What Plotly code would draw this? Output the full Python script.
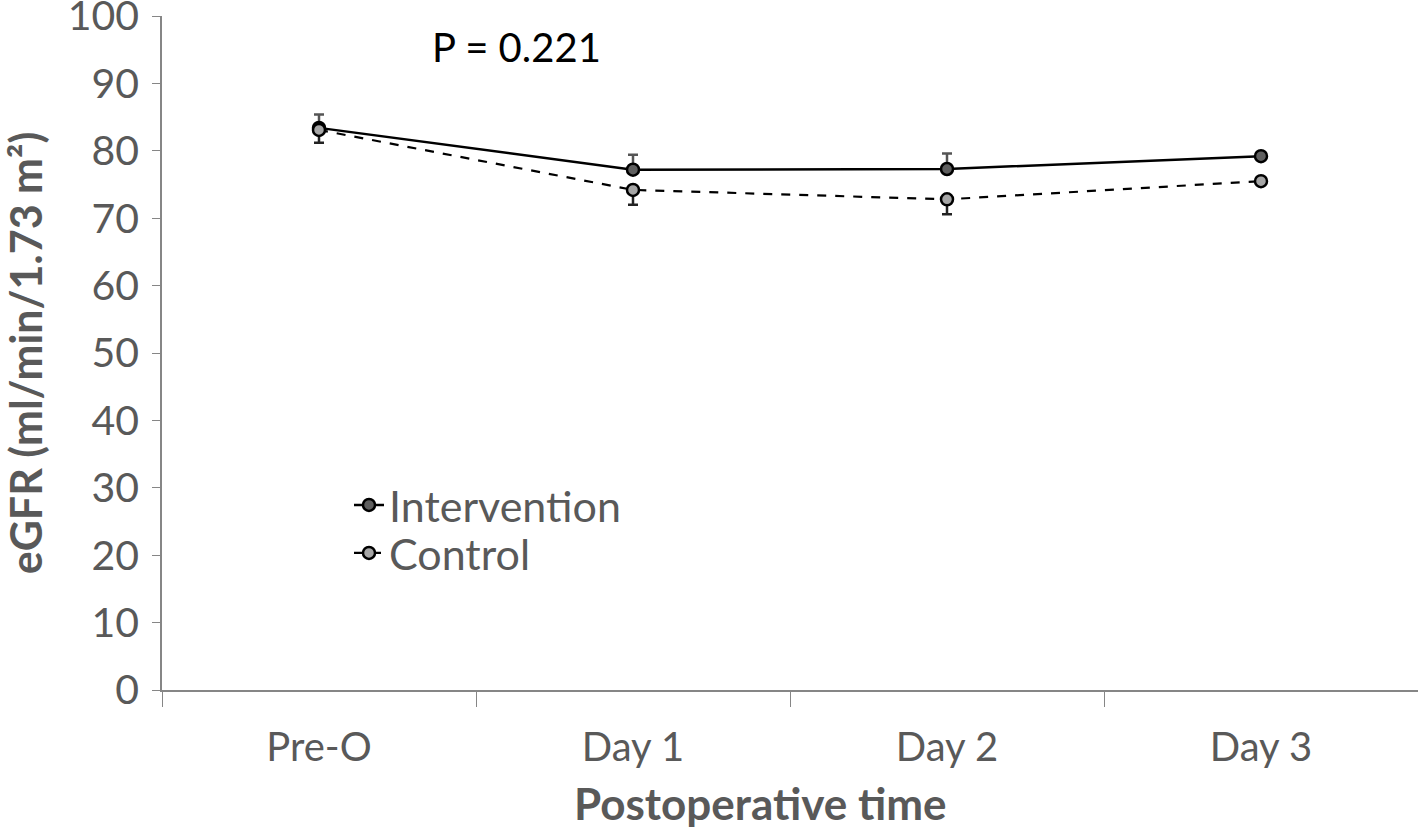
import plotly.graph_objects as go

# data
times = ["Pre-O", "Day 1", "Day 2", "Day 3"]
intervention = [83.4, 77.2, 77.3, 79.2]
intervention_err = [2.0, 2.2, 2.3, 0.0]
control = [83.1, 74.2, 72.8, 75.5]
control_err = [1.9, 2.2, 2.2, 0.0]

FONT = "Lato"
GREY = "#595959"

W, H = 1418, 831
L, T, R, B = 162, 16, 0, 141
PW, PH = W - L - R, H - T - B


def px(x):  # page x pixel -> paper
    return (x - L) / PW


def py(y):  # page y pixel -> paper
    return (H - B - y) / PH


fig = go.Figure()

fig.add_trace(go.Scatter(
    x=times, y=intervention,
    mode="lines+markers",
    name="Intervention", legend="legend",
    line=dict(color="black", width=2.5),
    marker=dict(size=12, color="#5f5f5f", line=dict(color="black", width=2.5)),
    error_y=dict(type="data", array=intervention_err, arrayminus=[0, 0, 0, 0],
                 symmetric=False, color="#555555", thickness=2.5, width=5),
))

fig.add_trace(go.Scatter(
    x=times, y=control,
    mode="lines+markers",
    name="Control", legend="legend2",
    line=dict(color="black", width=2.2, dash="dash"),
    marker=dict(size=12, color="#a6a6a6", line=dict(color="black", width=2.5)),
    error_y=dict(type="data", array=[0, 0, 0, 0], arrayminus=control_err,
                 symmetric=False, color="#222222", thickness=2.5, width=5),
))

fig.add_annotation(
    x=px(516), y=py(47), xref="paper", yref="paper",
    text="P = 0.221", showarrow=False, xanchor="center", yanchor="middle",
    font=dict(family=FONT, size=40, color="black"),
)
fig.add_annotation(
    x=px(760), y=py(803), xref="paper", yref="paper",
    text="<b>Postoperative time</b>", showarrow=False,
    xanchor="center", yanchor="middle",
    font=dict(family=FONT, size=44, color=GREY),
)

leg = dict(xanchor="left", yanchor="middle",
           font=dict(family=FONT, size=43, color=GREY),
           bgcolor="rgba(0,0,0,0)", itemwidth=30)

fig.update_layout(
    width=W, height=H,
    margin=dict(l=L, r=R, t=T, b=B),
    paper_bgcolor="white", plot_bgcolor="white",
    showlegend=True,
    legend=dict(leg, x=px(349), y=py(505)),
    legend2=dict(leg, x=px(349), y=py(553)),
    xaxis=dict(
        type="category", range=[-0.5, 3.5], automargin=False,
        showline=True, linecolor="#868686", linewidth=1.5,
        ticks="outside", tickson="boundaries", ticklen=15, tickcolor="#868686",
        showgrid=False, zeroline=False, ticklabelstandoff=21,
        tickfont=dict(family=FONT, size=40, color=GREY),
    ),
    yaxis=dict(
        range=[0, 100], dtick=10, automargin=False,
        showline=True, linecolor="#868686", linewidth=1.5,
        ticks="outside", ticklen=8, tickcolor="#868686",
        showgrid=False, zeroline=False, ticklabelstandoff=5,
        ticklabeloverflow="allow",
        tickfont=dict(family=FONT, size=41, color=GREY),
        title=dict(text="<b>eGFR (ml/min/1.73 m²)</b>", standoff=36,
                   font=dict(family=FONT, size=43, color=GREY)),
    ),
)

# drop the default body margin so the figure sits at the page origin
fig.write_html("out.html", config={"displayModeBar": False},
               post_script="document.body.style.margin='0';")
